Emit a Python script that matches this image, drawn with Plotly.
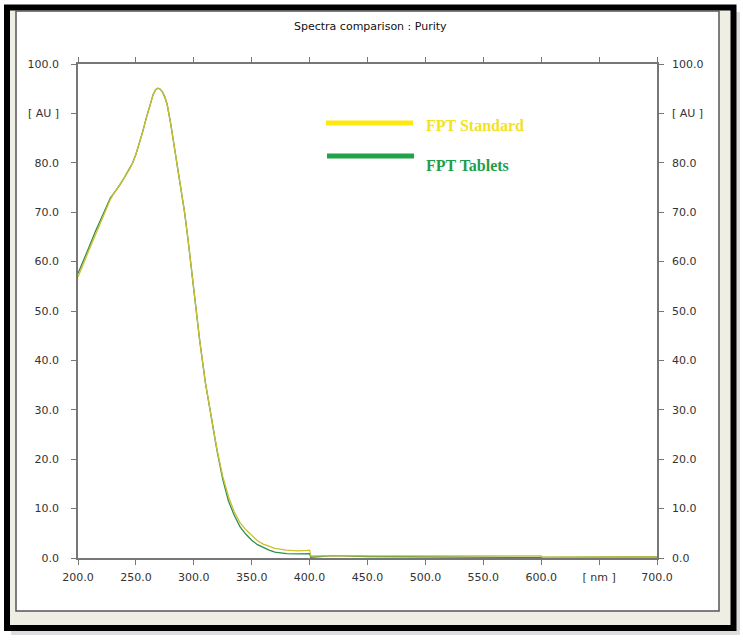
import plotly.graph_objects as go

# spectra (wavelength in nm, absorbance in AU)
wavelength = [200, 205, 210, 215, 220, 225, 228, 230, 233, 236, 240, 244, 247, 250, 253, 256,
              259, 262, 265, 267, 269, 271, 273, 275, 277, 280, 283, 286, 289, 292, 295, 298,
              300, 305, 310, 315, 320, 325, 330, 335, 340, 345, 350, 355, 360, 365, 370, 380,
              390, 398, 400, 401, 420, 450, 500, 550, 600, 601, 650, 700]
standard = [56.9, 59.6, 62.6, 65.4, 68.2, 71.0, 72.6, 73.4, 74.4, 75.5, 77.0, 78.5, 79.9, 81.7, 83.9, 86.4,
            89.1, 91.8, 93.9, 94.8, 95.1, 94.9, 94.3, 93.3, 91.8, 88.0, 83.7, 79.3, 74.8, 70.0, 64.5, 58.5,
            54.5, 44.2, 35.5, 28.4, 22.0, 16.5, 12.4, 9.3, 7.1, 5.7, 4.5, 3.5, 2.8, 2.3, 1.95, 1.6,
            1.45, 1.55, 1.6, 0.45, 0.45, 0.45, 0.45, 0.45, 0.45, 0.15, 0.15, 0.2]
tablets = [57.6, 60.3, 63.2, 66.1, 68.8, 71.4, 72.9, 73.5, 74.4, 75.5, 77.0, 78.5, 79.9, 81.7, 83.9, 86.4,
           89.1, 91.8, 93.9, 94.8, 95.1, 94.9, 94.3, 93.3, 91.8, 88.0, 83.7, 79.3, 74.8, 70.0, 64.5, 58.5,
           54.5, 44.2, 35.5, 28.4, 21.8, 15.9, 11.5, 8.6, 6.3, 4.8, 3.6, 2.7, 2.1, 1.6, 1.2, 0.9,
           0.85, 0.9, 0.9, 0.15, 0.5, 0.3, 0.2, 0.15, 0.15, 0.1, 0.15, 0.2]

x_ticks = [200, 250, 300, 350, 400, 450, 500, 550, 600, 650, 700]
x_labels = ['200.0', '250.0', '300.0', '350.0', '400.0', '450.0', '500.0', '550.0', '600.0', '[ nm ]', '700.0']
y_ticks = [0, 10, 20, 30, 40, 50, 60, 70, 80, 90, 100]
y_labels = ['0.0', '10.0', '20.0', '30.0', '40.0', '50.0', '60.0', '70.0', '80.0', '[ AU ]', '100.0']

W, H = 743, 644
L, R, T, B = 78, 657, 64, 558


def px(x):
    return (x - L) / (R - L)


def py(y):
    return (B - y) / (B - T)


fig = go.Figure()
fig.add_trace(go.Scatter(x=wavelength, y=tablets, mode='lines', name='FPT Tablets',
                         line=dict(color='#2e8f4e', width=1.3), yaxis='y'))
fig.add_trace(go.Scatter(x=wavelength, y=standard, mode='lines', name='FPT Standard',
                         line=dict(color='#cdbf2c', width=1.3), yaxis='y2'))

tick_font = dict(family='DejaVu Sans', size=11, color='#333333')

shapes = [
    # shadow, black frame, cream border, white panel
    dict(type='rect', xref='paper', yref='paper', x0=px(11), x1=px(740), y0=py(635), y1=py(12),
         fillcolor='#dddddd', line=dict(width=0), layer='below'),
    dict(type='rect', xref='paper', yref='paper', x0=px(7), x1=px(733.5), y0=py(628), y1=py(7.5),
         fillcolor='#efeee4', line=dict(color='black', width=6), layer='below'),
    dict(type='rect', xref='paper', yref='paper', x0=px(16), x1=px(719), y0=py(611), y1=py(11),
         fillcolor='white', line=dict(color='#555555', width=1.5), layer='below'),
    # legend lines
    dict(type='line', xref='paper', yref='paper', x0=px(326), x1=px(413), y0=py(123), y1=py(123),
         line=dict(color='#fde910', width=5)),
    dict(type='line', xref='paper', yref='paper', x0=px(327), x1=px(414), y0=py(156), y1=py(156),
         line=dict(color='#21a349', width=5)),
]

annotations = [
    dict(text='Spectra comparison : Purity', xref='paper', yref='paper', x=px(371), y=py(27),
         xanchor='center', yanchor='middle', showarrow=False,
         font=dict(family='DejaVu Sans', size=11, color='#111111')),
    dict(text='<b>FPT Standard</b>', xref='paper', yref='paper', x=px(424), y=py(126),
         xanchor='left', yanchor='middle', showarrow=False,
         font=dict(family='Liberation Serif', size=16, color='#f3e21c')),
    dict(text='<b>FPT Tablets</b>', xref='paper', yref='paper', x=px(424), y=py(166),
         xanchor='left', yanchor='middle', showarrow=False,
         font=dict(family='Liberation Serif', size=16, color='#1f9e4a')),
]

fig.update_layout(
    width=W, height=H,
    margin=dict(l=L, r=W - R, t=T, b=H - B, pad=0),
    paper_bgcolor='white', plot_bgcolor='white',
    showlegend=False,
    shapes=shapes, annotations=annotations,
    xaxis=dict(range=[200, 700], tickvals=x_ticks, ticktext=x_labels, ticks='outside',
               ticklen=5, tickcolor='#777777', showline=True, linecolor='#777777', linewidth=1.5,
               mirror='ticks', showgrid=False, zeroline=False, tickfont=tick_font,
               ticklabelstandoff=3),
    yaxis=dict(range=[0, 100], tickvals=y_ticks, ticktext=y_labels, ticks='outside',
               ticklen=5, tickcolor='#777777', showline=True, linecolor='#777777', linewidth=1.5,
               mirror='ticks', showgrid=False, zeroline=False, tickfont=tick_font,
               ticklabelstandoff=10),
    yaxis2=dict(range=[0, 100], tickvals=y_ticks, ticktext=y_labels, overlaying='y', side='right',
                ticks='', showline=False, showgrid=False, zeroline=False, tickfont=tick_font,
                ticklabelstandoff=14),
)

# page margin off so the figure sits at the window corner
fig.write_html('out.html', config={'displayModeBar': False},
               post_script="document.body.style.margin='0px';")
